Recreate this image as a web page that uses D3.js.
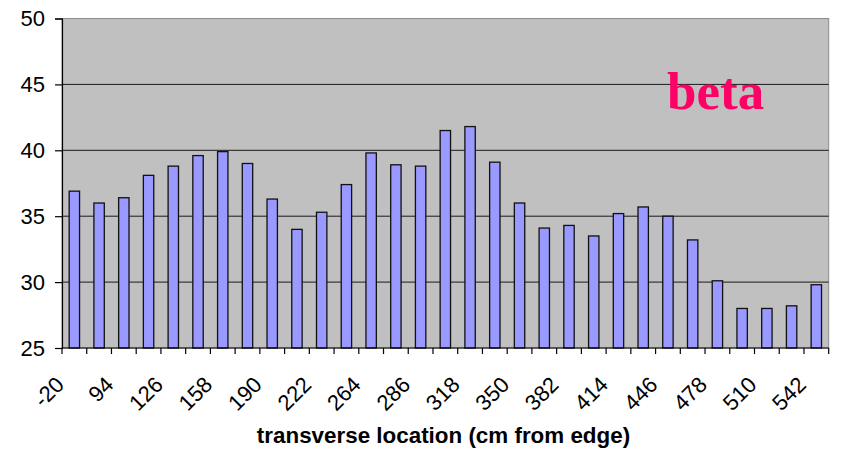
<!DOCTYPE html>
<html>
<head>
<meta charset="utf-8">
<script src="https://cdn.jsdelivr.net/npm/d3@7"></script>
<style>
  html, body { margin: 0; padding: 0; background: #fff; }
  svg { display: block; }
  text { font-family: Arial, "Liberation Sans", sans-serif; }
</style>
</head>
<body>
<svg id="chart" width="846" height="454"></svg>
<script>
// beta by transverse position, one bar per measurement station
const betaValues = [36.9, 36.0, 36.4, 38.1, 38.8, 39.6, 39.9, 39.0, 36.3, 34.0,
                    35.3, 37.4, 39.8, 38.9, 38.8, 41.5, 41.8, 39.1, 36.0, 34.1,
                    34.3, 33.5, 35.2, 35.7, 35.0, 33.2, 30.1, 28.0, 28.0, 28.2, 29.8];
// labels printed under every second station
const tickLabels = ["-20", "94", "126", "158", "190", "222", "264", "286",
                    "318", "350", "382", "414", "446", "478", "510", "542"];
const yTicks = [25, 30, 35, 40, 45, 50];

const svg = d3.select("#chart");
const plot = { left: 62, right: 828.7, top: 18.5, bottom: 348 };

const stations = betaValues.map((v, i) => i);
const x = d3.scaleBand()
  .domain(stations)
  .range([plot.left, plot.right])
  .paddingInner(0.58)
  .paddingOuter(0.29);
const y = d3.scaleLinear().domain([25, 50]).range([plot.bottom, plot.top]);

// plot background
svg.append("rect")
  .attr("x", plot.left).attr("y", plot.top)
  .attr("width", plot.right - plot.left).attr("height", plot.bottom - plot.top)
  .attr("fill", "#c0c0c0")
  .attr("stroke", "#8c8c8c").attr("stroke-width", 1);

// horizontal gridlines
svg.append("g").selectAll("line")
  .data(yTicks.filter(t => t > 25 && t < 50))
  .join("line")
  .attr("x1", plot.left).attr("x2", plot.right)
  .attr("y1", d => y(d)).attr("y2", d => y(d))
  .attr("stroke", "#1a1a1a").attr("stroke-width", 1);

// bars
svg.append("g").selectAll("rect")
  .data(betaValues)
  .join("rect")
  .attr("x", (d, i) => x(i))
  .attr("width", x.bandwidth())
  .attr("y", d => y(d))
  .attr("height", d => y(25) - y(d))
  .attr("fill", "#9999ff")
  .attr("stroke", "#111")
  .attr("stroke-width", 1.3);

// y axis
const yAxis = svg.append("g")
  .attr("transform", `translate(${plot.left},0)`)
  .call(d3.axisLeft(y).tickValues(yTicks).tickSize(7).tickPadding(10));
yAxis.select(".domain").attr("stroke", "#000").attr("stroke-width", 1.2);
yAxis.selectAll(".tick line").attr("stroke", "#000").attr("stroke-width", 1.2);
yAxis.selectAll(".tick text")
  .attr("font-size", "22px").attr("fill", "#000")
  .style("font-family", "Arial, 'Liberation Sans', sans-serif");

// x axis baseline and tick marks at station boundaries
const step = x.step();
const x0 = plot.left;
svg.append("line")
  .attr("x1", plot.left).attr("x2", plot.right)
  .attr("y1", plot.bottom).attr("y2", plot.bottom)
  .attr("stroke", "#000").attr("stroke-width", 1.2);
svg.append("g").selectAll("line")
  .data(d3.range(stations.length + 1))
  .join("line")
  .attr("x1", i => x0 + i * step).attr("x2", i => x0 + i * step)
  .attr("y1", plot.bottom).attr("y2", plot.bottom + 6)
  .attr("stroke", "#000").attr("stroke-width", 1.2);

// rotated station labels
svg.append("g").selectAll("text")
  .data(tickLabels)
  .join("text")
  .attr("transform", (d, i) => {
    const cx = x(i * 2) + x.bandwidth() / 2;
    return `translate(${cx - 9},${plot.bottom + 38}) rotate(-45)`;
  })
  .attr("text-anchor", "end")
  .attr("font-size", "22px")
  .attr("fill", "#000")
  .text(d => d);

// axis title
svg.append("text")
  .attr("x", 443.5).attr("y", 443)
  .attr("text-anchor", "middle")
  .attr("font-size", "22.4px")
  .attr("font-weight", "bold")
  .attr("fill", "#000")
  .text("transverse location (cm from edge)");

// series tag
svg.append("text")
  .attr("x", 667).attr("y", 108.5)
  .attr("font-family", "'Liberation Serif', 'Times New Roman', serif")
  .style("font-family", "'Liberation Serif', 'Times New Roman', serif")
  .attr("font-size", "53px")
  .attr("font-weight", "bold")
  .attr("fill", "#ff0066")
  .text("beta");
</script>
</body>
</html>
